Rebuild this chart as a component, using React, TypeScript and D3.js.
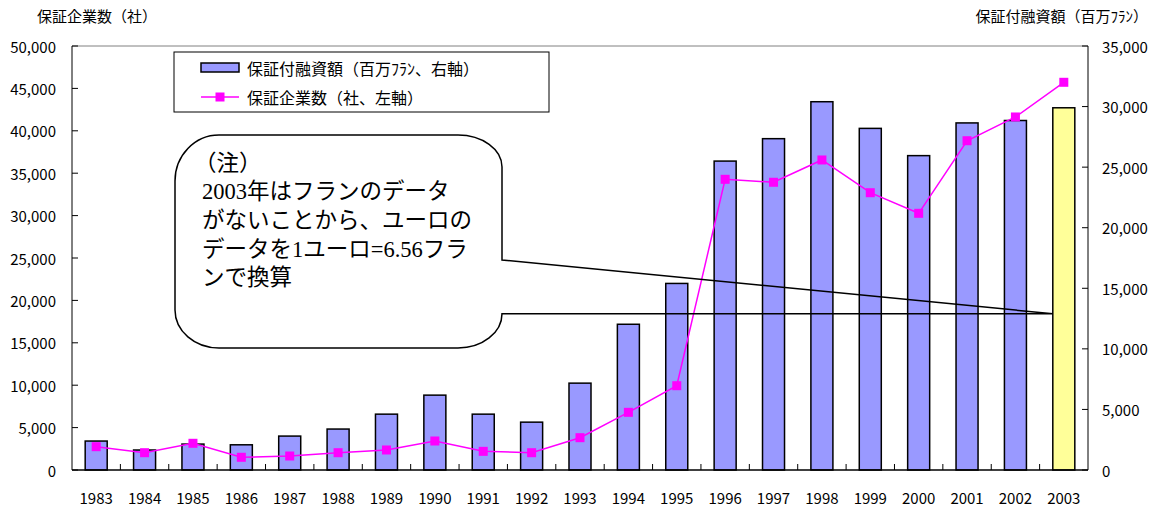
import * as d3 from "d3";

// 保証付融資額（百万フラン、右軸）と保証企業数（社、左軸）
const years = [
  "1983", "1984", "1985", "1986", "1987", "1988", "1989", "1990", "1991", "1992", "1993",
  "1994", "1995", "1996", "1997", "1998", "1999", "2000", "2001", "2002", "2003",
];
const loanAmount = [
  2390, 1650, 2140, 2080, 2800, 3380, 4610, 6180, 4610, 3950, 7170,
  12030, 15400, 25500, 27350, 30400, 28200, 25950, 28650, 28850, 29900,
];
const companies = [
  2750, 2040, 3150, 1500, 1650, 2040, 2360, 3420, 2200, 2040, 3810,
  6800, 9940, 34280, 33930, 36560, 32700, 30270, 38830, 41630, 45720,
];
const convertedYear = "2003";
const leftTicks = [0, 5000, 10000, 15000, 20000, 25000, 30000, 35000, 40000, 45000, 50000];
const rightTicks = [0, 5000, 10000, 15000, 20000, 25000, 30000, 35000];
const noteLines = [
  "（注）",
  "2003年はフランのデータ",
  "がないことから、ユーロの",
  "データを1ユーロ=6.56フラ",
  "ンで換算",
];
const noteTipValue = 12900; // right-axis level the callout points at

const W = 1160;
const H = 509;
const left = 72;
const right = 1088;
const top = 46;
const bottom = 470;
const FONT = "'Noto Sans CJK JP', 'Noto Sans', sans-serif";

const fmt = d3.format(",");

export default function App() {
  const x = d3
    .scaleBand<string>()
    .domain(years)
    .range([left, right])
    .paddingInner(0.545)
    .paddingOuter(0.2725);
  const yL = d3.scaleLinear().domain([0, 50000]).range([bottom, top]);
  const yR = d3.scaleLinear().domain([0, 35000]).range([bottom, top]);

  const step = x.step();
  const center = (yr: string) => (x(yr) ?? 0) + x.bandwidth() / 2;
  const boundary = (i: number) => left + i * step;

  const line = d3
    .line<number>()
    .x((_, i) => center(years[i]))
    .y((d) => yL(d));

  // callout shape
  const bx0 = 175, by0 = 135, bx1 = 502, by1 = 348;
  const rx = 44, ry = 38;
  const tipX = x(convertedYear) ?? 0;
  const tipY = yR(noteTipValue);
  const wedgeTop = 260;
  const callout = [
    `M${bx0 + rx},${by0}`,
    `L${bx1 - rx},${by0}`,
    `A${rx},${ry - 6} 0 0 1 ${bx1},${by0 + ry - 6}`,
    `L${bx1},${wedgeTop}`,
    `L${tipX},${tipY}`,
    `L${bx1},${tipY}`,
    `A${rx},${by1 - tipY} 0 0 1 ${bx1 - rx},${by1}`,
    `L${bx0 + rx},${by1}`,
    `A${rx},${ry} 0 0 1 ${bx0},${by1 - ry}`,
    `L${bx0},${by0 + ry + 8}`,
    `A${rx},${ry + 8} 0 0 1 ${bx0 + rx},${by0}`,
    "Z",
  ].join(" ");

  return (
    <div style={{ position: "absolute", left: 0, top: 0 }}>
      <svg width={W} height={H} style={{ display: "block", background: "#fff" }} fontFamily={FONT}>
        {/* axis titles */}
        <text x={37} y={15} fontSize={15} dominantBaseline="central">保証企業数（社）</text>
        <text x={1148} y={15} fontSize={15} textAnchor="end" dominantBaseline="central">保証付融資額（百万ﾌﾗﾝ）</text>

        {/* plot frame */}
        <line x1={left} x2={right} y1={top} y2={top} stroke="#808080" strokeWidth={1} />

        {/* bars */}
        {years.map((yr, i) => (
          <rect
            key={yr}
            x={x(yr)}
            y={yR(loanAmount[i])}
            width={x.bandwidth()}
            height={bottom - yR(loanAmount[i])}
            fill={yr === convertedYear ? "#ffff99" : "#9999ff"}
            stroke="#000"
            strokeWidth={1.5}
          />
        ))}

        {/* line series */}
        <path d={line(companies) ?? ""} fill="none" stroke="#ff00ff" strokeWidth={1.5} />
        {companies.map((v, i) => (
          <rect
            key={years[i]}
            x={center(years[i]) - 4.5}
            y={yL(v) - 4.5}
            width={9}
            height={9}
            fill="#ff00ff"
          />
        ))}

        {/* axes */}
        <line x1={left} x2={left} y1={top} y2={bottom} stroke="#000" />
        <line x1={right} x2={right} y1={top} y2={bottom} stroke="#000" />
        <line x1={left} x2={right} y1={bottom} y2={bottom} stroke="#000" strokeWidth={1.5} />
        {leftTicks.map((t) => (
          <g key={"l" + t}>
            <line x1={left} x2={left + 6} y1={yL(t)} y2={yL(t)} stroke="#000" />
            <text x={56} y={yL(t)} fontSize={15} textAnchor="end" dominantBaseline="central">
              {fmt(t)}
            </text>
          </g>
        ))}
        {rightTicks.map((t) => (
          <g key={"r" + t}>
            <line x1={right - 6} x2={right} y1={yR(t)} y2={yR(t)} stroke="#000" />
            <text x={1102} y={yR(t)} fontSize={15} dominantBaseline="central">
              {fmt(t)}
            </text>
          </g>
        ))}
        {years.slice(1).map((yr, i) => (
          <line
            key={"t" + yr}
            x1={boundary(i + 1)}
            x2={boundary(i + 1)}
            y1={bottom}
            y2={bottom - 6}
            stroke="#000"
          />
        ))}
        {years.map((yr) => (
          <text key={"x" + yr} x={center(yr)} y={497} fontSize={15} textAnchor="middle" dominantBaseline="central">
            {yr}
          </text>
        ))}

        {/* legend */}
        <rect x={174} y={52} width={375} height={60} fill="#fff" stroke="#000" />
        <rect x={201} y={63} width={38} height={9} fill="#9999ff" stroke="#000" strokeWidth={1.5} />
        <text x={247} y={68} fontSize={16} dominantBaseline="central">保証付融資額（百万ﾌﾗﾝ、右軸）</text>
        <line x1={201} x2={239} y1={97} y2={97} stroke="#ff00ff" strokeWidth={1.5} />
        <rect x={215.5} y={92.5} width={9} height={9} fill="#ff00ff" />
        <text x={247} y={97} fontSize={16} dominantBaseline="central">保証企業数（社、左軸）</text>

        {/* callout note */}
        <path d={callout} fill="none" stroke="#000" strokeWidth={1.5} />
        {noteLines.map((s, i) => (
          <text
            key={i}
            x={i === 0 ? 194 : 202}
            y={163 + i * 28.7}
            fontSize={22.5}
            fontFamily="'Liberation Serif', 'Noto Sans CJK JP', serif"
            dominantBaseline="central"
          >
            {s}
          </text>
        ))}
      </svg>
    </div>
  );
}
